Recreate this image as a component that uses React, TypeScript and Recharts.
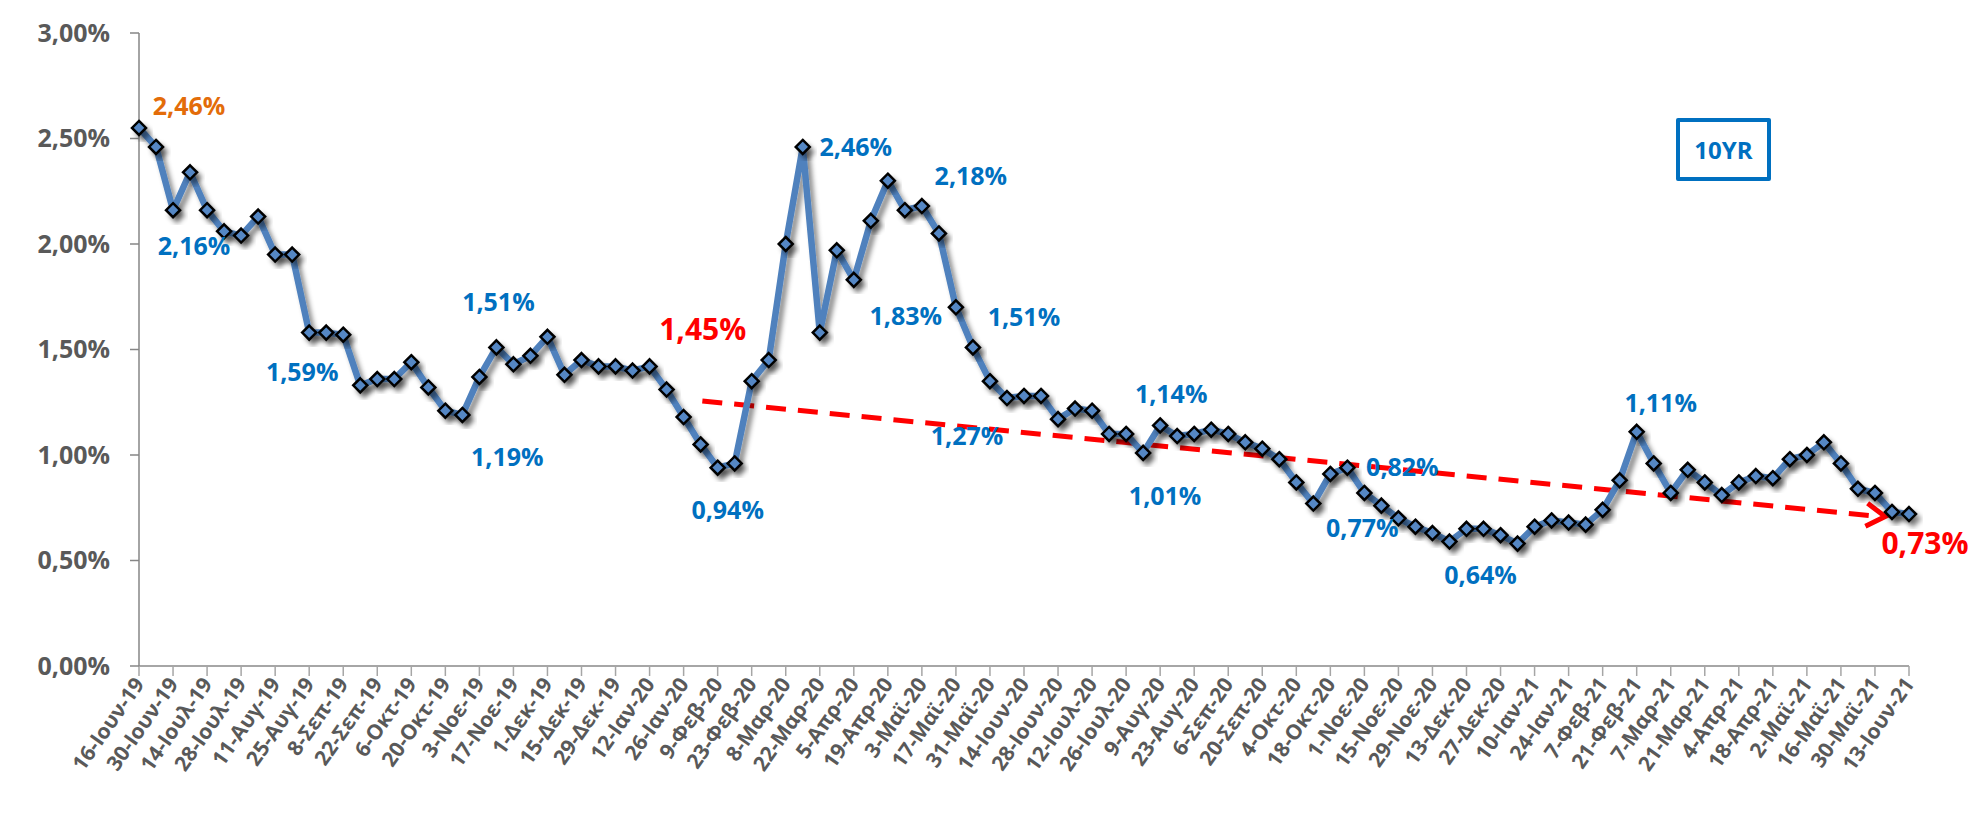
import { LineChart, Line, XAxis, YAxis, ReferenceLine, LabelList } from "recharts";

// tick labels, one every two weeks (16-Ιουν-19 … 13-Ιουν-21)
const TICK_LABELS = [
  "16-Ιουν-19", "30-Ιουν-19", "14-Ιουλ-19", "28-Ιουλ-19", "11-Αυγ-19", "25-Αυγ-19", "8-Σεπ-19",
  "22-Σεπ-19", "6-Οκτ-19", "20-Οκτ-19", "3-Νοε-19", "17-Νοε-19", "1-Δεκ-19", "15-Δεκ-19",
  "29-Δεκ-19", "12-Ιαν-20", "26-Ιαν-20", "9-Φεβ-20", "23-Φεβ-20", "8-Μαρ-20", "22-Μαρ-20",
  "5-Απρ-20", "19-Απρ-20", "3-Μαϊ-20", "17-Μαϊ-20", "31-Μαϊ-20", "14-Ιουν-20", "28-Ιουν-20",
  "12-Ιουλ-20", "26-Ιουλ-20", "9-Αυγ-20", "23-Αυγ-20", "6-Σεπ-20", "20-Σεπ-20", "4-Οκτ-20",
  "18-Οκτ-20", "1-Νοε-20", "15-Νοε-20", "29-Νοε-20", "13-Δεκ-20", "27-Δεκ-20", "10-Ιαν-21",
  "24-Ιαν-21", "7-Φεβ-21", "21-Φεβ-21", "7-Μαρ-21", "21-Μαρ-21", "4-Απρ-21", "18-Απρ-21",
  "2-Μαϊ-21", "16-Μαϊ-21", "30-Μαϊ-21", "13-Ιουν-21",
];

// weekly 10yr yield, %
const YIELD_10Y = [
  2.55, 2.46, 2.16, 2.34, 2.16, 2.06, 2.04, 2.13, 1.95, 1.95,
  1.58, 1.58, 1.57, 1.33, 1.36, 1.36, 1.44, 1.32, 1.21, 1.19,
  1.37, 1.51, 1.43, 1.47, 1.56, 1.38, 1.45, 1.42, 1.42, 1.40,
  1.42, 1.31, 1.18, 1.05, 0.94, 0.96, 1.35, 1.45, 2.00, 2.46,
  1.58, 1.97, 1.83, 2.11, 2.30, 2.16, 2.18, 2.05, 1.70, 1.51,
  1.35, 1.27, 1.28, 1.28, 1.17, 1.22, 1.21, 1.10, 1.10, 1.01,
  1.14, 1.09, 1.10, 1.12, 1.10, 1.06, 1.03, 0.98, 0.87, 0.77,
  0.91, 0.94, 0.82, 0.76, 0.70, 0.66, 0.63, 0.59, 0.65, 0.65,
  0.62, 0.58, 0.66, 0.69, 0.68, 0.67, 0.74, 0.88, 1.11, 0.96,
  0.82, 0.93, 0.87, 0.81, 0.87, 0.90, 0.89, 0.98, 1.00, 1.06,
  0.96, 0.84, 0.82, 0.73, 0.72,
];

const Y_TICKS = [0, 0.5, 1, 1.5, 2, 2.5, 3];

// callout texts and the week they belong to
const CALLOUT_WEEKS = [0, 2, 10, 21, 19, 34, 37, 39, 42, 46, 49, 51, 60, 59, 72, 69, 77, 88, 104];
const CALLOUT_TEXTS = [
  "2,46%", "2,16%", "1,59%", "1,51%", "1,19%", "0,94%", "1,45%", "2,46%", "1,83%", "2,18%",
  "1,51%", "1,27%", "1,14%", "1,01%", "0,82%", "0,77%", "0,64%", "1,11%", "0,73%",
];

// trend arrow: [week, yield] start and end
const TREND = [
  { x: 33.1, y: 1.256 },
  { x: 102.6, y: 0.708 },
];

const BLUE = "#0070C0";
const RED = "#FF0000";
const ORANGE = "#E36C09";
const LINE = "#4F81BD";
const FONT = "'Open Sans', 'Noto Sans', sans-serif";

// offsets of each callout centre from its point, plus colour/size
const CALLOUT_STYLE: { dx: number; dy: number; color: string; size: number }[] = [
  { dx: 50, dy: -22, color: ORANGE, size: 25 },
  { dx: 21, dy: 36, color: BLUE, size: 25 },
  { dx: -7, dy: 39, color: BLUE, size: 25 },
  { dx: 2, dy: -45, color: BLUE, size: 25 },
  { dx: 45, dy: 42, color: BLUE, size: 25 },
  { dx: 10, dy: 42, color: BLUE, size: 25 },
  { dx: -66, dy: -31, color: RED, size: 30 },
  { dx: 53, dy: 0, color: BLUE, size: 25 },
  { dx: 52, dy: 36, color: BLUE, size: 25 },
  { dx: 49, dy: -30, color: BLUE, size: 25 },
  { dx: 51, dy: -30, color: BLUE, size: 25 },
  { dx: -40, dy: 38, color: BLUE, size: 25 },
  { dx: 11, dy: -31, color: BLUE, size: 25 },
  { dx: 22, dy: 43, color: BLUE, size: 25 },
  { dx: 38, dy: -26, color: BLUE, size: 25 },
  { dx: 49, dy: 24, color: BLUE, size: 25 },
  { dx: 31, dy: 33, color: BLUE, size: 25 },
  { dx: 24, dy: -29, color: BLUE, size: 25 },
  { dx: 16, dy: 29, color: RED, size: 30 },
];

const data = YIELD_10Y.map((v, i) => ({ week: i, value: v }));
const xTicks = TICK_LABELS.map((_, i) => i * 2);

const fmtPct = (v: number) => v.toFixed(2).replace(".", ",") + "%";

const XTick = ({ x, y, payload }: any) => {
  const label = TICK_LABELS[Math.round(payload.value / 2)];
  return (
    <g transform={`translate(${x},${y})`}>
      <text
        x={0}
        y={0}
        dy="0.35em"
        textAnchor="end"
        transform="rotate(-55)"
        fill="#595959"
        fontSize={21}
        fontWeight={700}
        fontFamily={FONT}
      >
        {label}
      </text>
    </g>
  );
};

const Diamond = ({ cx, cy, index }: any) => {
  if (cx == null || cy == null) return null;
  const r = 7;
  return (
    <polygon
      key={`d-${index}`}
      points={`${cx},${cy - r} ${cx + r},${cy} ${cx},${cy + r} ${cx - r},${cy}`}
      fill="#5487C4"
      stroke="#000"
      strokeWidth={2.5}
      filter="url(#shadow)"
    />
  );
};

const Callout = ({ x, y, index }: any) => {
  const k = CALLOUT_WEEKS.indexOf(index);
  if (k < 0 || x == null || y == null) return null;
  const s = CALLOUT_STYLE[k];
  return (
    <text
      x={x + s.dx}
      y={y + s.dy}
      dy="0.36em"
      textAnchor="middle"
      fill={s.color}
      fontSize={s.size}
      fontWeight={700}
      fontFamily={FONT}
    >
      {CALLOUT_TEXTS[k]}
    </text>
  );
};

const TrendArrow = ({ x1, y1, x2, y2 }: any) => {
  const ang = Math.atan2(y2 - y1, x2 - x1);
  const len = 22;
  const spread = 0.55;
  const ax = x2 - len * Math.cos(ang - spread);
  const ay = y2 - len * Math.sin(ang - spread);
  const bx = x2 - len * Math.cos(ang + spread);
  const by = y2 - len * Math.sin(ang + spread);
  return (
    <g>
      <line x1={x1} y1={y1} x2={x2 - 4} y2={y2} stroke={RED} strokeWidth={5} strokeDasharray="20 12" />
      <polyline points={`${ax},${ay} ${x2},${y2} ${bx},${by}`} fill="none" stroke={RED} strokeWidth={5} />
    </g>
  );
};

export default function App() {
  return (
    <div style={{ position: "absolute", left: 0, top: 0, width: 1979, height: 822, background: "#fff" }}>
      <LineChart width={1979} height={822} data={data} margin={{ top: 33, right: 70, left: 0, bottom: 6 }}>
        <defs>
          <filter id="shadow" x="-50%" y="-50%" width="200%" height="200%">
            <feDropShadow dx={4} dy={5} stdDeviation={2.5} floodColor="#000" floodOpacity={0.45} />
          </filter>
        </defs>
        <XAxis
          type="number"
          dataKey="week"
          domain={[0, 104]}
          ticks={xTicks}
          interval={0}
          tick={<XTick />}
          tickSize={10}
          tickMargin={4}
          height={150}
          axisLine={{ stroke: "#A6A6A6", strokeWidth: 2 }}
          tickLine={{ stroke: "#A6A6A6", strokeWidth: 1.5 }}
        />
        <YAxis
          type="number"
          domain={[0, 3]}
          ticks={Y_TICKS}
          interval={0}
          width={139}
          tickSize={9}
          tickMargin={20}
          tickFormatter={fmtPct}
          tick={{ fill: "#595959", fontSize: 25, fontWeight: 700, fontFamily: FONT }}
          axisLine={{ stroke: "#868686", strokeWidth: 1.5 }}
          tickLine={{ stroke: "#868686", strokeWidth: 1.5 }}
        />
        <ReferenceLine segment={TREND} shape={<TrendArrow />} ifOverflow="visible" />
        <Line
          dataKey="value"
          stroke={LINE}
          strokeWidth={6.5}
          strokeLinejoin="round"
          filter="url(#shadow)"
          dot={Diamond}
          activeDot={false}
          isAnimationActive={false}
        >
          <LabelList dataKey="value" content={<Callout />} />
        </Line>
      </LineChart>
      <div
        style={{
          position: "absolute",
          left: 1676,
          top: 118,
          width: 87,
          height: 55,
          border: `4px solid ${BLUE}`,
          borderRadius: 2,
          display: "flex",
          alignItems: "center",
          justifyContent: "center",
          color: BLUE,
          fontFamily: FONT,
          fontWeight: 700,
          fontSize: 24,
        }}
      >
        10YR
      </div>
    </div>
  );
}
